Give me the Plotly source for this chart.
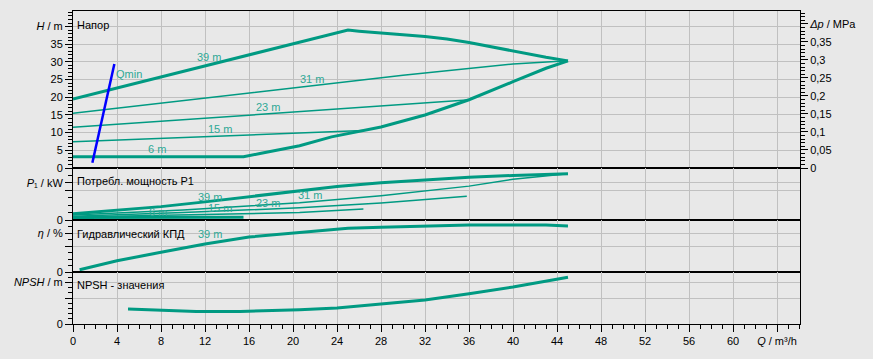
import plotly.graph_objects as go

# ---------------- data ----------------
# H-Q (panel 1), Q in m3/h, H in m
q_39 = [0, 4, 8, 12, 16, 20, 25, 26, 28, 30, 32, 34, 36, 38, 40, 42, 43, 45]
h_39 = [19.5, 22.6, 25.7, 28.9, 32.0, 35.1, 39.0, 38.7, 38.1, 37.7, 37.2, 36.5, 35.5, 34.3, 32.9, 31.9, 31.3, 30.3]
q_min = [0, 8, 15.5, 17, 18.8, 20.6, 23.5, 28, 32, 36, 40, 43, 45]
h_min = [3.2, 3.2, 3.2, 4.1, 5.1, 6.3, 8.8, 11.6, 15.0, 19.3, 24.4, 28.2, 30.3]
q_31 = [0, 10, 20, 30, 40, 45]
h_31 = [15.5, 19.0, 22.5, 26.2, 29.4, 30.3]
q_23 = [0, 10, 20, 30, 35.8]
h_23 = [11.5, 13.6, 15.7, 17.9, 19.2]
q_15 = [0, 10, 20, 26.4]
h_15 = [7.4, 8.6, 9.7, 10.6]
q_qmin = [1.76, 3.76]
h_qmin = [1.5, 29.4]

# P1 (panel 2), kW
p_q39 = [0, 4, 8, 12, 16, 20, 24, 28, 32, 36, 40, 45]
p_39 = [0.21, 0.32, 0.45, 0.61, 0.79, 0.95, 1.13, 1.25, 1.35, 1.44, 1.50, 1.56]
p_q31 = [0, 10, 20.6, 28, 36, 40, 43.6, 45]
p_31 = [0.17, 0.34, 0.58, 0.82, 1.14, 1.37, 1.51, 1.56]
p_q23 = [0, 10, 20.6, 28, 35.8]
p_23 = [0.13, 0.25, 0.41, 0.57, 0.80]
p_q15 = [0, 10, 20.6, 26.4]
p_15 = [0.10, 0.17, 0.25, 0.37]
p_q6 = [0, 8, 15.5]
p_6 = [0.08, 0.084, 0.09]

# efficiency (panel 3), %
e_q = [0.6, 4, 8, 12, 16, 20, 22.5, 25, 28, 32, 36, 40, 43, 45]
e_39 = [3.5, 17.4, 30.3, 43.0, 53.8, 60.0, 63.5, 67.2, 68.8, 70.8, 72.3, 72.3, 72.3, 70.8]

# NPSH (panel 4), m
n_q = [5, 7, 9, 11.2, 15.2, 18, 20.6, 24, 28, 32, 36, 40, 45]
n_v = [2.9, 2.7, 2.6, 2.4, 2.4, 2.55, 2.75, 3.1, 3.8, 4.6, 5.8, 7.1, 9.0]

# tick labels
x_ticks = list(range(0, 65, 4))
x_ticktext = [str(v) for v in range(0, 61, 4)] + ["<i>Q</i> / m³/h"]
h_ticks = [0, 5, 10, 15, 20, 25, 30, 35, 40]
h_ticktext = ["0", "5", "10", "15", "20", "25", "30", "35", "<i>H</i> / m"]
dp_ticks = [0, 0.05, 0.1, 0.15, 0.2, 0.25, 0.3, 0.35, 0.4]
dp_ticktext = ["0", "0,05", "0,1", "0,15", "0,2", "0,25", "0,3", "0,35", "<i>Δp</i> / MPa"]
p_ticks = [0, 1.0, 1.25]
p_ticktext = ["0", "", "<i>P</i>₁ / kW"]
e_ticks = [0, 40, 60]
e_ticktext = ["0", "", "<i>η</i> / %"]
n_ticks = [0, 5, 8]
n_ticktext = ["0", "", "<i>NPSH</i> / m"]

# curve labels
h_lab_text = ["39 m", "31 m", "23 m", "15 m", "6 m", "Qmin"]
h_lab_q = [12.4, 21.75, 17.75, 13.4, 7.66, 5.1]
h_lab_h = [31.5, 25.2, 17.2, 11.0, 5.3, 26.6]
p_lab_text = ["39 m", "31 m", "23 m", "15 m", "6 m"]
p_lab_q = [12.45, 21.5, 17.75, 13.4, 7.75]
p_lab_v = [0.78, 0.84, 0.58, 0.39, 0.28]
e_lab_text = ["39 m"]
e_lab_q = [12.45]
e_lab_v = [58.5]

panel_titles = ["Напор", "Потребл. мощность P1", "Гидравлический КПД", "NPSH - значения"]

# ---------------- styles ----------------
TEAL = "#009a82"
LABEL_TEAL = "#2ea896"
BG = "#e8e8e8"
GRID = "#c0c0c0"
FONT = "Liberation Sans, Arial, sans-serif"
FS = 11
XMAX = 727 / 11.0
MPA_PER_M = 0.00981

fig = go.Figure()

def line(x, y, xa, ya, w, color=TEAL):
    fig.add_trace(go.Scatter(x=x, y=y, xaxis=xa, yaxis=ya, mode="lines",
                             line=dict(color=color, width=w), hoverinfo="skip",
                             showlegend=False))

# panel 1
line(q_31, h_31, "x", "y", 1.5)
line(q_23, h_23, "x", "y", 1.5)
line(q_15, h_15, "x", "y", 1.5)
line(q_39, h_39, "x", "y", 3)
line(q_min, h_min, "x", "y", 3)
line(q_qmin, h_qmin, "x", "y", 2.5, "#0000ff")
# right axis carrier (invisible)
fig.add_trace(go.Scatter(x=q_39, y=[v * MPA_PER_M for v in h_39], xaxis="x", yaxis="y5",
                         mode="lines", line=dict(color="rgba(0,0,0,0)", width=0),
                         hoverinfo="skip", showlegend=False))
# panel 2
line(p_q31, p_31, "x2", "y2", 1.5)
line(p_q23, p_23, "x2", "y2", 1.5)
line(p_q15, p_15, "x2", "y2", 1.5)
line(p_q6, p_6, "x2", "y2", 3)
line(p_q39, p_39, "x2", "y2", 3)
# panel 3
line(e_q, e_39, "x3", "y3", 3)
# panel 4
line(n_q, n_v, "x4", "y4", 3)

annotations = []
for t, q, h in zip(h_lab_text, h_lab_q, h_lab_h):
    annotations.append(dict(x=q, y=h, xref="x", yref="y", text=t, showarrow=False,
                            font=dict(color=LABEL_TEAL, size=FS, family=FONT)))
for t, q, v in zip(p_lab_text, p_lab_q, p_lab_v):
    annotations.append(dict(x=q, y=v, xref="x2", yref="y2", text=t, showarrow=False,
                            font=dict(color=LABEL_TEAL, size=FS, family=FONT)))
for t, q, v in zip(e_lab_text, e_lab_q, e_lab_v):
    annotations.append(dict(x=q, y=v, xref="x3", yref="y3", text=t, showarrow=False,
                            font=dict(color=LABEL_TEAL, size=FS, family=FONT)))
title_y = [0.911, 0.75, 0.73, 0.75]
for i, (t, yy) in enumerate(zip(panel_titles, title_y)):
    sfx = "" if i == 0 else str(i + 1)
    annotations.append(dict(x=0.003, y=yy, xref=f"x{sfx} domain", yref=f"y{sfx} domain",
                            text=t, showarrow=False, xanchor="left", yanchor="middle",
                            font=dict(color="#000000", size=FS, family=FONT)))

H = 313.0
d1 = [(324 - 168) / H, 1.0]
d2 = [(324 - 220) / H, (324 - 168) / H]
d3 = [(324 - 272) / H, (324 - 220) / H]
d4 = [0.0, (324 - 272) / H]

def xax(anchor, show_labels):
    ax = dict(range=[0, XMAX], anchor=anchor, showgrid=True, gridcolor=GRID, gridwidth=1,
              tickvals=x_ticks, zeroline=False, showline=True, linecolor="black",
              linewidth=1, mirror=True, fixedrange=True)
    if show_labels:
        ax.update(ticktext=x_ticktext, ticks="outside", ticklen=7, tickcolor="black",
                  minor=dict(dtick=1, ticks="outside", ticklen=4, tickcolor="black"),
                  tickfont=dict(size=FS, family=FONT, color="black"))
    else:
        ax.update(showticklabels=False, ticks="")
    return ax

def yax(domain, anchor, rng, tv, tt, minor_dtick):
    return dict(domain=domain, anchor=anchor, range=rng, tickvals=tv, ticktext=tt,
                showgrid=True, gridcolor=GRID, gridwidth=1, zeroline=False,
                showline=True, linecolor="black", linewidth=1, mirror=True,
                ticks="outside", ticklen=7, tickcolor="black",
                minor=dict(dtick=minor_dtick, ticks="outside", ticklen=4, tickcolor="black",
                           showgrid=False),
                tickfont=dict(size=FS, family=FONT, color="black"), fixedrange=True)

fig.update_layout(
    width=873, height=359,
    margin=dict(l=73, r=73, t=11, b=35),
    paper_bgcolor=BG, plot_bgcolor=BG,
    font=dict(family=FONT, size=FS, color="black"),
    showlegend=False,
    xaxis=xax("y", False),
    xaxis2=xax("y2", False),
    xaxis3=xax("y3", False),
    xaxis4=xax("y4", True),
    yaxis=yax(d1, "x", [0, 44.4], h_ticks, h_ticktext, 1),
    yaxis2=yax(d2, "x2", [0, 1.75], p_ticks, p_ticktext, 0.25),
    yaxis3=yax(d3, "x3", [0, 80], e_ticks, e_ticktext, 10),
    yaxis4=yax(d4, "x4", [0, 10], n_ticks, n_ticktext, 1),
    yaxis5=dict(overlaying="y", side="right", anchor="x", range=[0, 44.4 * MPA_PER_M],
                tickvals=dp_ticks, ticktext=dp_ticktext, showgrid=False, zeroline=False,
                showline=False, ticks="outside", ticklen=7, tickcolor="black",
                minor=dict(dtick=0.01, ticks="outside", ticklen=4, tickcolor="black"),
                tickfont=dict(size=FS, family=FONT, color="black"), fixedrange=True),
    annotations=annotations,
)

fig.write_html("out.html")
